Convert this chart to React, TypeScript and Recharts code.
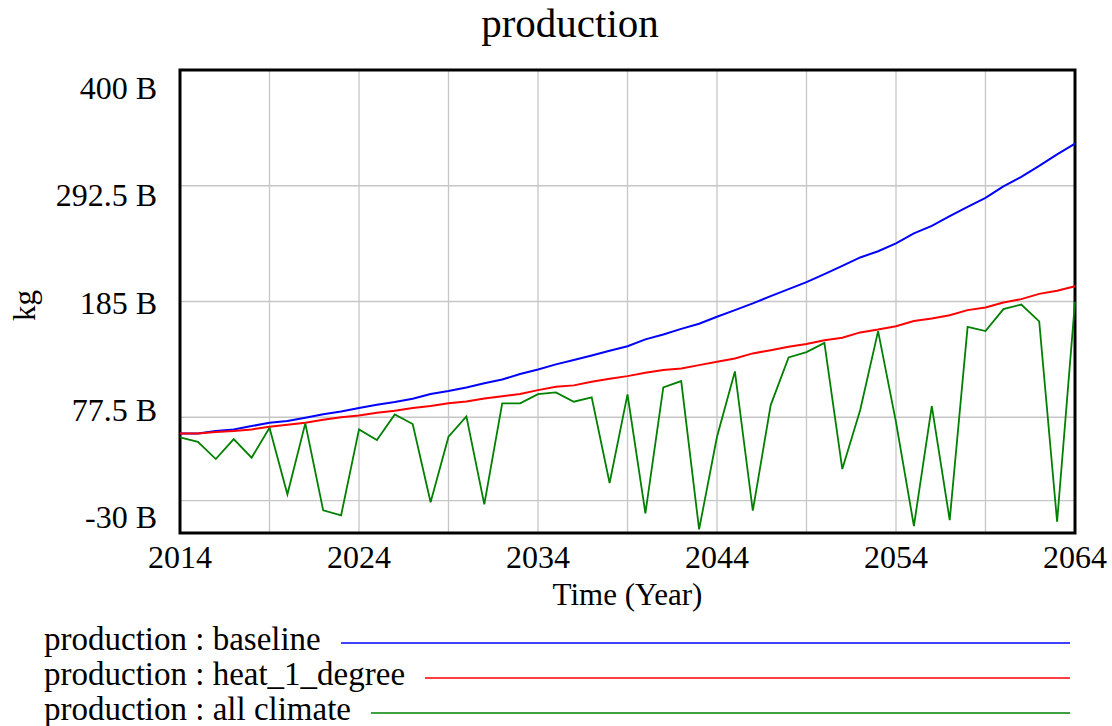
import { CartesianGrid, Line, LineChart, ReferenceArea, XAxis, YAxis } from 'recharts'

const years = [
  2014, 2015, 2016, 2017, 2018, 2019, 2020, 2021, 2022, 2023,
  2024, 2025, 2026, 2027, 2028, 2029, 2030, 2031, 2032, 2033,
  2034, 2035, 2036, 2037, 2038, 2039, 2040, 2041, 2042, 2043,
  2044, 2045, 2046, 2047, 2048, 2049, 2050, 2051, 2052, 2053,
  2054, 2055, 2056, 2057, 2058, 2059, 2060, 2061, 2062, 2063, 2064,
]

// billions of kg
const baseline = [
  62.5, 62.5, 64.7, 66.2, 69.3, 72.4, 74, 77, 80.2, 82.9,
  86, 89.1, 91.6, 94.6, 99, 101.8, 105.2, 109, 112.6, 117.6,
  121.9, 126.6, 130.6, 134.9, 139.2, 143.5, 149.8, 154.4, 159.6, 164.3,
  170.8, 177, 183.2, 190, 196.5, 203, 210.4, 218.1, 225.9, 231.7,
  238.9, 248.2, 255.2, 264.2, 272.8, 281.2, 292, 300.7, 310.9, 321.7, 331.7,
]
const heat1Degree = [
  62.5, 62.5, 63.7, 64.7, 66.2, 68.7, 70.5, 72.4, 75.2, 77.4,
  79.2, 81.7, 83.5, 86, 87.9, 90.4, 92.2, 95, 97.1, 99,
  102.7, 105.8, 107.1, 110.4, 113.2, 115.7, 118.8, 121.3, 122.8, 125.9,
  129, 132.1, 136.8, 139.8, 142.9, 145.5, 149.1, 151.3, 156.3, 159,
  162.1, 166.8, 169.3, 172.3, 177, 179.5, 184.1, 187.2, 192.1, 194.9, 199.2,
]
const allClimate = [
  58.8, 54.7, 38.7, 57.2, 39.9, 67.7, 5.9, 71.8, -9, -13.6,
  66.2, 56.3, 80.1, 71.2, -1.5, 59.4, 78.3, -3.4, 90.4, 90.4,
  99, 100.6, 91.9, 95.9, 16.4, 98.7, -11.7, 105.2, 111.1, -26.6,
  59.4, 120, -9.3, 88.8, 133, 138, 146.6, 29.4, 84.2, 157.5,
  73, -23.5, 87.9, -18, 161.5, 157.5, 177.9, 182.2, 166.5, -19.5, 184.7,
]

const xTicks = [2014, 2024, 2034, 2044, 2054, 2064]
const xGrid = [2019, 2024, 2029, 2034, 2039, 2044, 2049, 2054, 2059]
const yTicks = [-30, 77.5, 185, 292.5, 400]
const yGrid = [0, 77.5, 185, 292.5]

const series = [
  { key: 'baseline', name: 'production : baseline', color: '#0000ff', width: 2 },
  { key: 'heat', name: 'production : heat_1_degree', color: '#ff0000', width: 2 },
  { key: 'all', name: 'production : all climate', color: '#008000', width: 1.8 },
]

const data = years.map((year, i) => ({
  year,
  baseline: baseline[i],
  heat: heat1Degree[i],
  all: allClimate[i],
}))

const FONT = '"Liberation Serif", "Times New Roman", serif'
const TOP = 70
const BOTTOM = 533

// Vensim spreads the value labels a bit inside the frame, not on the gridlines
function YTick(props: any) {
  const { x, y, payload } = props
  const labelY = TOP + 18 + (y - TOP) * (429 / (BOTTOM - TOP))
  return (
    <text x={x} y={labelY} textAnchor="end" dominantBaseline="central" fontSize={32} fontFamily={FONT} fill="#000">
      {`${payload.value} B`}
    </text>
  )
}

export default function App() {
  return (
    <div style={{ position: 'absolute', left: 0, top: 0, width: 1112, height: 726, background: '#fff', fontFamily: FONT }}>
      <LineChart width={1112} height={726} data={data} margin={{ top: TOP, right: 37, bottom: 113, left: 0 }}>
        <CartesianGrid
          stroke="#c6c6c6"
          strokeWidth={1.3}
          horizontalValues={yGrid}
          verticalValues={xGrid}
        />
        <XAxis
          dataKey="year"
          type="number"
          domain={[2014, 2064]}
          ticks={xTicks}
          height={80}
          axisLine={false}
          tickLine={false}
          tickSize={6}
          tickMargin={6}
          tick={{ fontSize: 32, fontFamily: FONT, fill: '#000' }}
          label={{
            content: (p: any) => (
              <text
                x={p.viewBox.x + p.viewBox.width / 2}
                y={p.viewBox.y + 72}
                textAnchor="middle"
                fontSize={31}
                fontFamily={FONT}
                fill="#000"
              >
                Time (Year)
              </text>
            ),
          }}
        />
        <YAxis
          type="number"
          domain={[-30, 400]}
          ticks={yTicks}
          allowDataOverflow
          width={180}
          axisLine={false}
          tickLine={false}
          tickSize={6}
          tickMargin={17}
          tick={<YTick />}
          label={{
            content: (p: any) => {
              const cx = p.viewBox.x + 24
              const cy = p.viewBox.y + p.viewBox.height / 2 + 4
              return (
                <text
                  x={cx}
                  y={cy}
                  transform={`rotate(-90 ${cx} ${cy})`}
                  textAnchor="middle"
                  dominantBaseline="central"
                  fontSize={31}
                  fontFamily={FONT}
                  fill="#000"
                >
                  kg
                </text>
              )
            },
          }}
        />
        {series.map((s) => (
          <Line
            key={s.key}
            type="linear"
            dataKey={s.key}
            stroke={s.color}
            strokeWidth={s.width}
            dot={false}
            isAnimationActive={false}
          />
        ))}
        <ReferenceArea
          x1={2014}
          x2={2064}
          y1={-30}
          y2={400}
          fill="none"
          stroke="#000"
          strokeWidth={3}
          ifOverflow="visible"
        />
      </LineChart>

      <svg width={1112} height={60} style={{ position: 'absolute', left: 0, top: 0, pointerEvents: 'none' }}>
        <text x={570} y={37} textAnchor="middle" fontSize={41} fontFamily={FONT} fill="#000">
          production
        </text>
      </svg>

      <div style={{ position: 'absolute', left: 44, top: 622, width: 1026 }}>
        {series.map((s) => (
          <div key={s.key} style={{ display: 'flex', alignItems: 'center', height: 35, fontSize: 33, lineHeight: '35px', color: '#000' }}>
            <span style={{ whiteSpace: 'nowrap' }}>{s.name}</span>
            <svg height={10} style={{ flex: 1, marginLeft: 20, marginTop: 6 }}>
              <line x1="0" y1="5" x2="100%" y2="5" stroke={s.color} strokeWidth={1.6} />
            </svg>
          </div>
        ))}
      </div>
    </div>
  )
}
